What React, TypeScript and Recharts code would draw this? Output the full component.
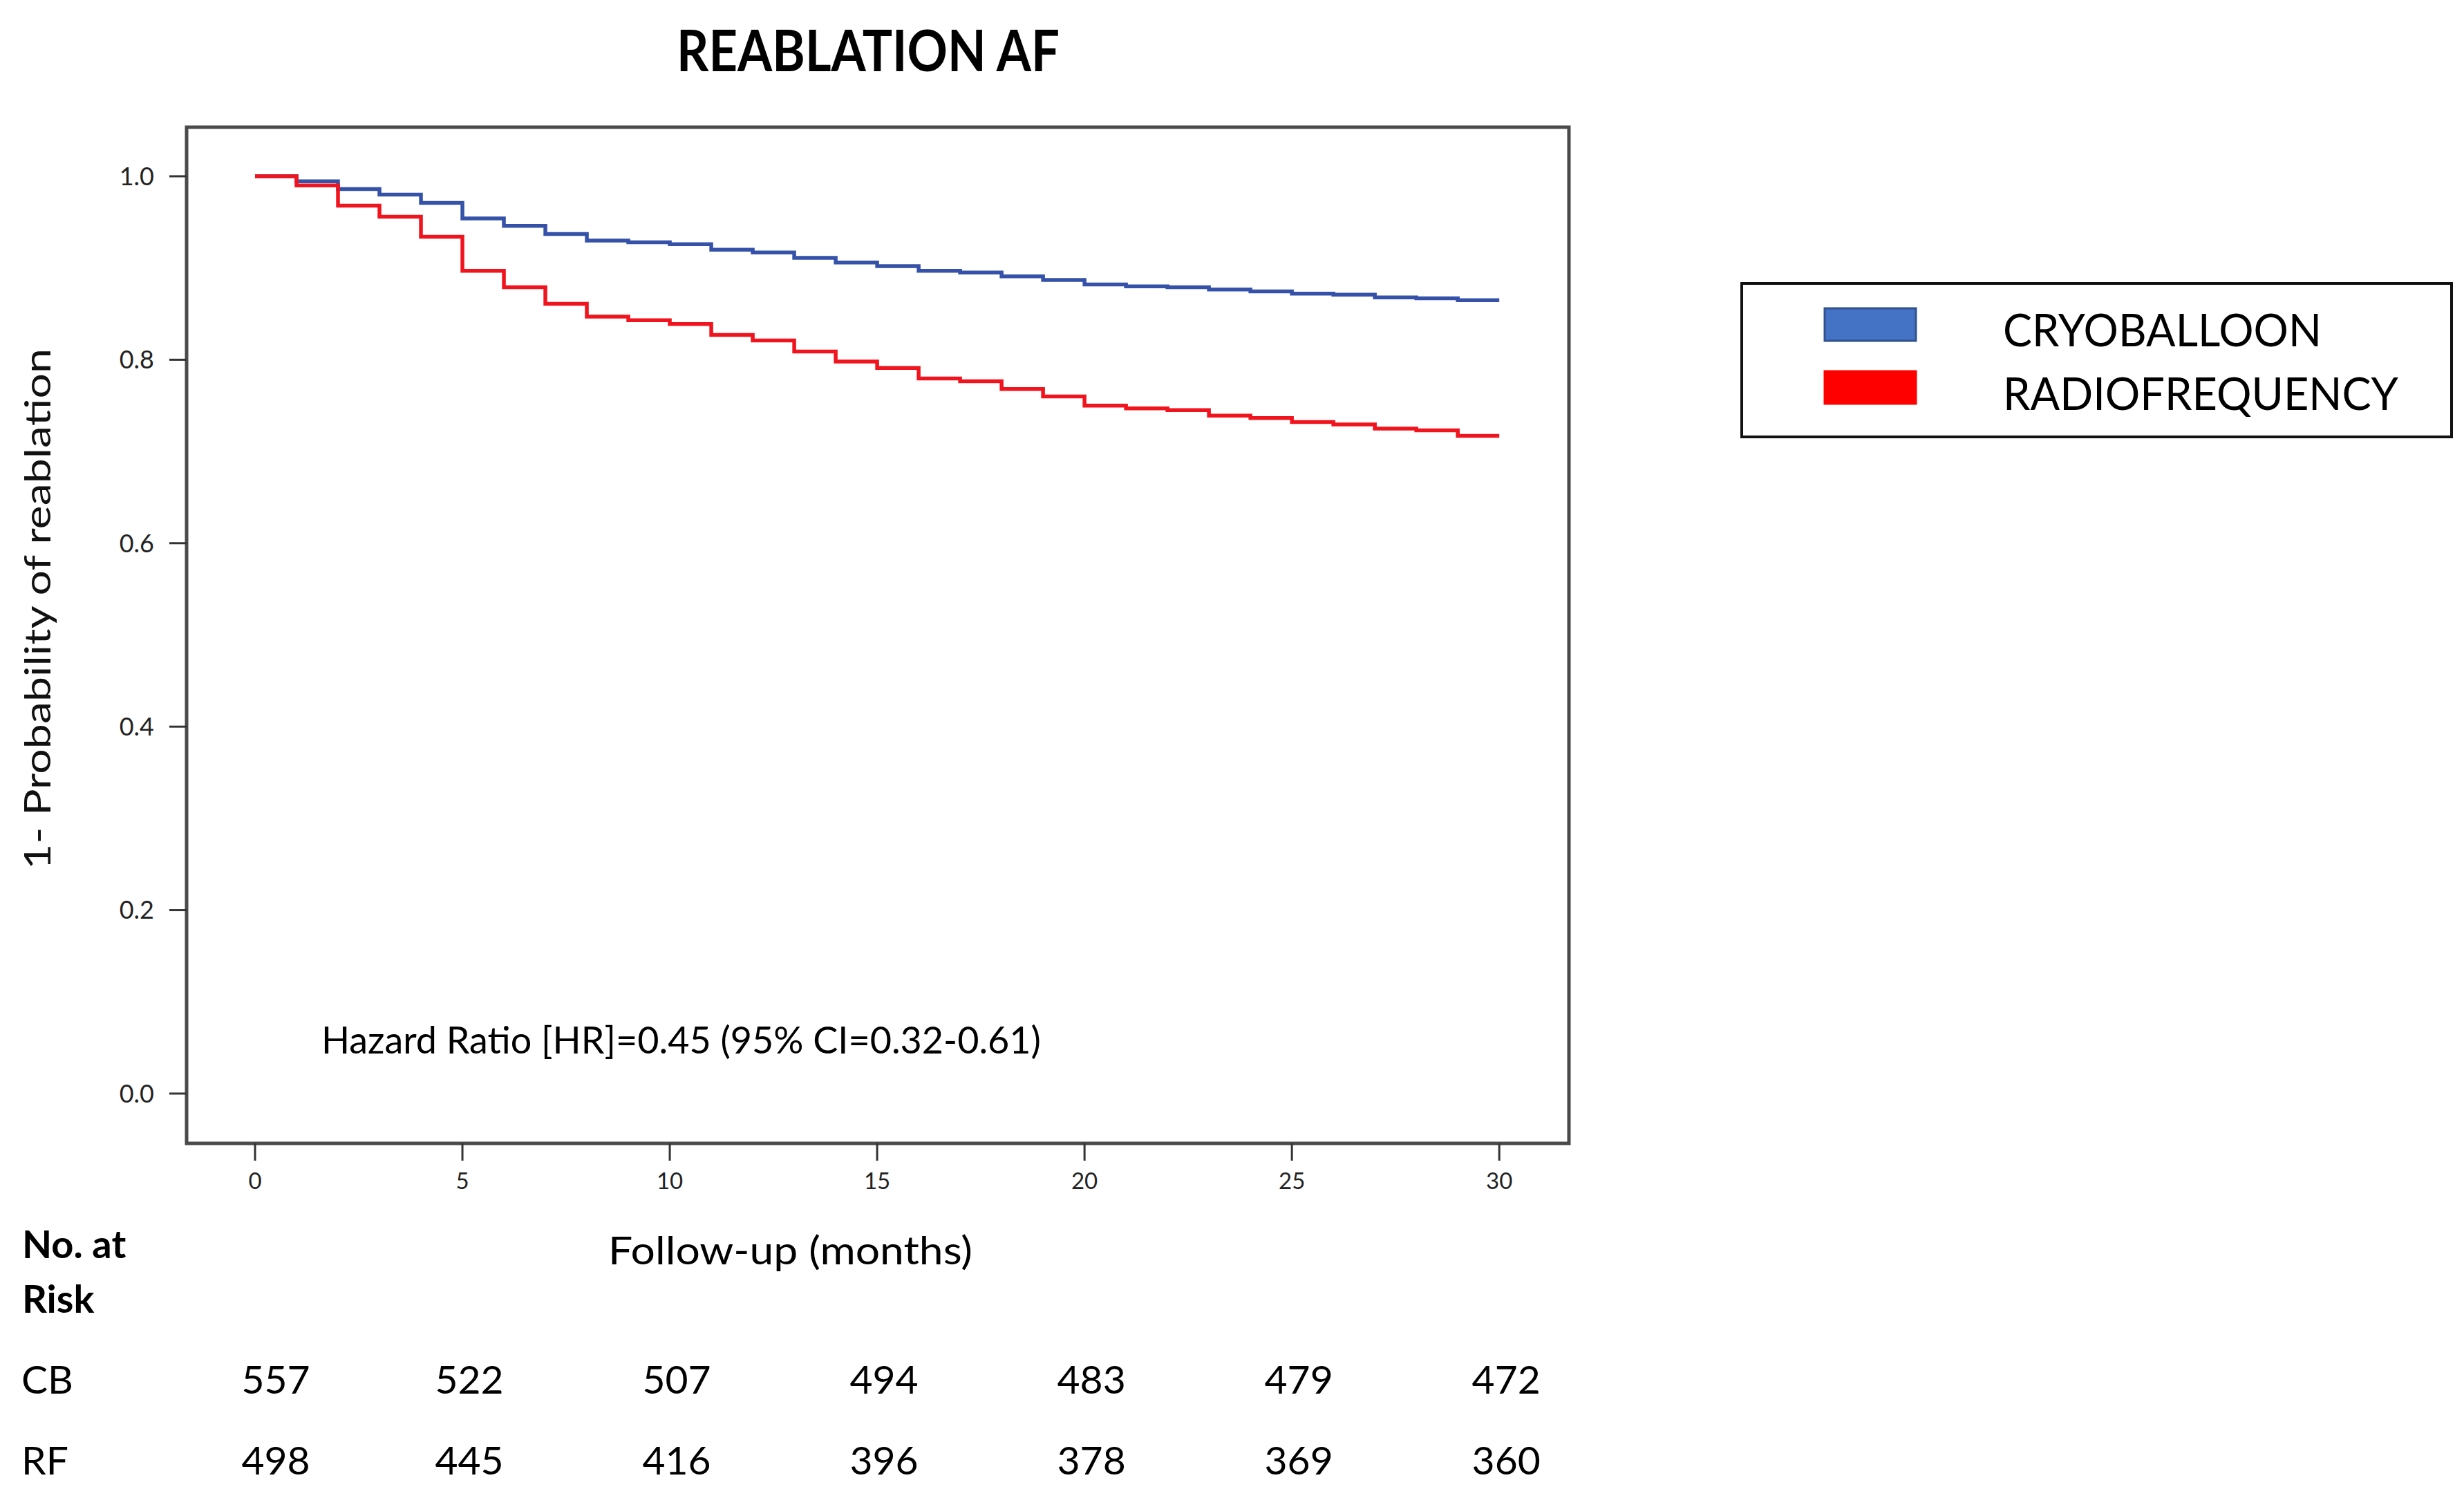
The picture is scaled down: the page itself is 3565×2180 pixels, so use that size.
import React from 'react'
import { LineChart, Line, XAxis, YAxis, ReferenceArea, Legend } from 'recharts'

const FONT = "Lato, 'Open Sans', sans-serif"

// month of follow-up (step starts)
const months = [0, 1, 2, 3, 4, 5, 6, 7, 8, 9, 10, 11, 12, 13, 14, 15, 16, 17, 18, 19, 20, 21, 22, 23, 24, 25, 26, 27, 28, 29, 30]
const cryoballoon = [1.0, 0.9945, 0.986, 0.98, 0.971, 0.954, 0.946, 0.937, 0.93, 0.928, 0.926, 0.92, 0.917, 0.911, 0.906, 0.902, 0.897, 0.895, 0.891, 0.887, 0.882, 0.88, 0.879, 0.8765, 0.8745, 0.872, 0.871, 0.868, 0.867, 0.865, 0.865]
const radiofrequency = [1.0, 0.99, 0.968, 0.956, 0.934, 0.897, 0.879, 0.861, 0.847, 0.843, 0.839, 0.827, 0.821, 0.809, 0.798, 0.791, 0.7795, 0.7765, 0.768, 0.76, 0.75, 0.747, 0.745, 0.739, 0.7365, 0.732, 0.7295, 0.725, 0.723, 0.717, 0.717]

const xTicks = [0, 5, 10, 15, 20, 25, 30]
const yTicks = [0, 0.2, 0.4, 0.6, 0.8, 1.0]
const cbAtRisk = [557, 522, 507, 494, 483, 479, 472]
const rfAtRisk = [498, 445, 416, 396, 378, 369, 360]

const seriesNames = ['CRYOBALLOON', 'RADIOFREQUENCY']
const swatchFill = ['#4472C4', '#FF0000']
const swatchStroke = ['#2F528F', '#FF0000']

const X_DOMAIN = [-1.65, 31.68]
const Y_DOMAIN = [-0.0543, 1.0535]

const data = months.map((m, i) => ({ month: m, cryo: cryoballoon[i], rf: radiofrequency[i] }))

const MonthTick = (props: any) => {
  const { x, payload } = props
  const i = xTicks.indexOf(payload.value)
  const nx = x + (i === 0 ? 30 : 10)
  return (
    <g fontFamily={FONT}>
      <text x={x} y={1720} textAnchor="middle" fontSize={33} fill="#222">{payload.value}</text>
      <text x={nx} y={2016} textAnchor="middle" fontSize={57} fill="#000">{cbAtRisk[i]}</text>
      <text x={nx} y={2133} textAnchor="middle" fontSize={57} fill="#000">{rfAtRisk[i]}</text>
    </g>
  )
}

const LegendBox = (props: any) => {
  const items = props.payload || []
  return (
    <svg width={1031} height={226} style={{ display: 'block' }}>
      <rect x={2} y={2} width={1027} height={222} fill="#fff" stroke="#111" strokeWidth={4} />
      {items.map((entry: any, i: number) => (
        <g key={entry.value}>
          <rect x={122} y={38 + i * 91} width={132} height={47} fill={swatchFill[i]} stroke={swatchStroke[i]} strokeWidth={3} />
          <text
            x={380}
            y={93 + i * 92}
            fontFamily={FONT}
            fontSize={66}
            fill="#000"
            textLength={i === 0 ? 461 : 572}
            lengthAdjust="spacingAndGlyphs"
          >
            {entry.value}
          </text>
        </g>
      ))}
    </svg>
  )
}

export default function App() {
  return (
    <div style={{ position: 'absolute', left: 0, top: 0, width: 3565, height: 2180, background: '#fff' }}>
      <LineChart
        width={3565}
        height={2180}
        data={data}
        margin={{ top: 184, right: 1295, bottom: 525, left: 269 }}
      >
        <XAxis
          dataKey="month"
          type="number"
          domain={X_DOMAIN}
          ticks={xTicks}
          allowDataOverflow
          height={1}
          axisLine={false}
          tickLine={{ stroke: '#333', strokeWidth: 3 }}
          tickSize={25}
          tick={<MonthTick />}
          interval={0}
        />
        <YAxis
          type="number"
          domain={Y_DOMAIN}
          ticks={yTicks}
          allowDataOverflow
          width={1}
          axisLine={false}
          tickLine={{ stroke: '#333', strokeWidth: 3 }}
          tickSize={25}
          tickMargin={22}
          tickFormatter={(v: number) => v.toFixed(1)}
          tick={{ fontSize: 36, fill: '#222', fontFamily: FONT }}
          interval={0}
        />
        <ReferenceArea
          x1={X_DOMAIN[0]}
          x2={X_DOMAIN[1]}
          y1={Y_DOMAIN[0]}
          y2={Y_DOMAIN[1]}
          fill="none"
          stroke="#4a4a4a"
          strokeWidth={5}
          ifOverflow="visible"
        />
        <Line
          type="stepAfter"
          dataKey="cryo"
          name={seriesNames[0]}
          stroke="#3552a8"
          strokeWidth={5.5}
          dot={false}
          activeDot={false}
          isAnimationActive={false}
        />
        <Line
          type="stepAfter"
          dataKey="rf"
          name={seriesNames[1]}
          stroke="#f0141e"
          strokeWidth={5.5}
          dot={false}
          activeDot={false}
          isAnimationActive={false}
        />
        <Legend
          layout="horizontal"
          verticalAlign="middle"
          align="center"
          content={<LegendBox />}
          wrapperStyle={{ left: 2518, top: 408, width: 1031, height: 226 }}
        />
      </LineChart>

      <svg
        width={3565}
        height={2180}
        style={{ position: 'absolute', left: 0, top: 0, pointerEvents: 'none' }}
        fontFamily={FONT}
      >
        <text x={1256} y={103} textAnchor="middle" fontSize={82} fontWeight="bold" textLength={554} lengthAdjust="spacingAndGlyphs">
          REABLATION AF
        </text>
        <text transform="translate(73, 881) rotate(-90)" textAnchor="middle" fontSize={52} fill="#111" textLength={754} lengthAdjust="spacingAndGlyphs">
          1- Probability of reablation
        </text>
        <text x={465} y={1524} fontSize={54} fill="#000" textLength={1041} lengthAdjust="spacingAndGlyphs">
          Hazard Ratio [HR]=0.45 (95% CI=0.32-0.61)
        </text>
        <text x={880} y={1829} fontSize={56} fill="#000" textLength={527} lengthAdjust="spacingAndGlyphs">
          Follow-up (months)
        </text>
        <text x={32} y={1820} fontSize={56} fontWeight="bold" fill="#000">No. at</text>
        <text x={32} y={1899} fontSize={56} fontWeight="bold" fill="#000">Risk</text>
        <text x={31} y={2016} fontSize={57} fill="#000">CB</text>
        <text x={31} y={2133} fontSize={57} fill="#000">RF</text>
      </svg>
    </div>
  )
}
